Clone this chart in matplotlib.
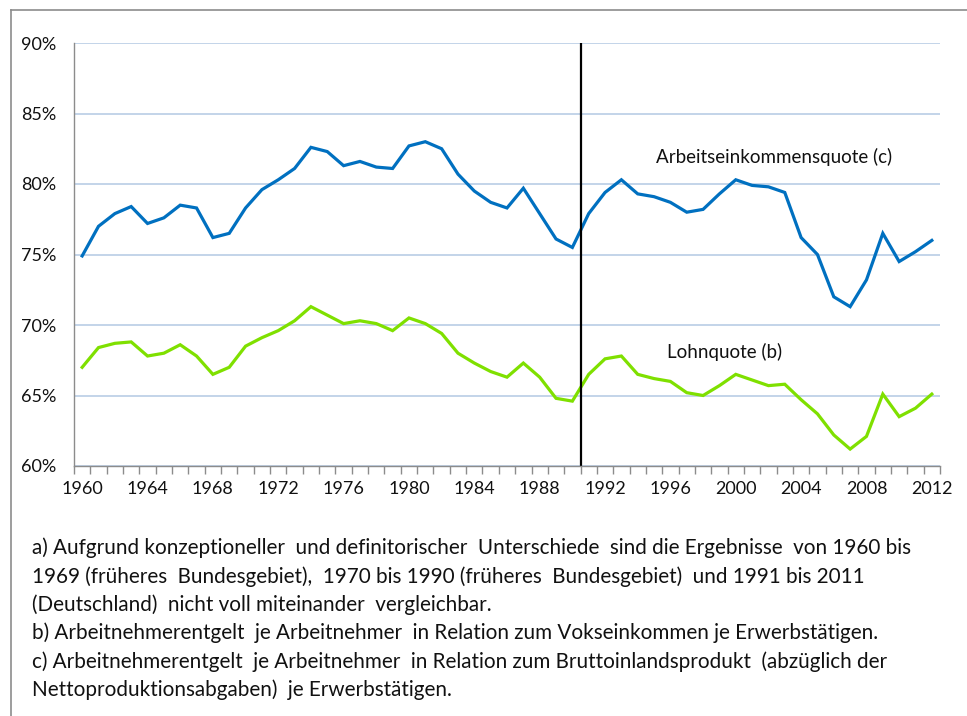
import numpy as np
import matplotlib.pyplot as plt
from matplotlib.lines import Line2D
from matplotlib.ticker import FixedLocator, FuncFormatter

plt.rcParams['font.family'] = ['Lato', 'DejaVu Sans']

# Data
years = list(range(1960, 2013))

arbeitseinkommensquote = [
    74.9, 77.0, 77.9, 78.4, 77.2, 77.6, 78.5, 78.3, 76.2, 76.5,
    78.3, 79.6, 80.3, 81.1, 82.6, 82.3, 81.3, 81.6, 81.2, 81.1,
    82.7, 83.0, 82.5, 80.7, 79.5, 78.7, 78.3, 79.7, 77.9, 76.1,
    75.5, 77.9, 79.4, 80.3, 79.3, 79.1, 78.7, 78.0, 78.2, 79.3,
    80.3, 79.9, 79.8, 79.4, 76.2, 75.0, 72.0, 71.3, 73.2, 76.5,
    74.5, 75.2, 76.0,
]

lohnquote = [
    67.0, 68.4, 68.7, 68.8, 67.8, 68.0, 68.6, 67.8, 66.5, 67.0,
    68.5, 69.1, 69.6, 70.3, 71.3, 70.7, 70.1, 70.3, 70.1, 69.6,
    70.5, 70.1, 69.4, 68.0, 67.3, 66.7, 66.3, 67.3, 66.3, 64.8,
    64.6, 66.5, 67.6, 67.8, 66.5, 66.2, 66.0, 65.2, 65.0, 65.7,
    66.5, 66.1, 65.7, 65.8, 64.7, 63.7, 62.2, 61.2, 62.1, 65.1,
    63.5, 64.1, 65.1,
]

label_years = list(range(1960, 2013, 4))
y_ticks = [60, 65, 70, 75, 80, 85, 90]
break_year = 1990.5

footnotes = [
    "a) Aufgrund konzeptioneller  und definitorischer  Unterschiede  sind die Ergebnisse  von 1960 bis",
    "1969 (früheres  Bundesgebiet),  1970 bis 1990 (früheres  Bundesgebiet)  und 1991 bis 2011",
    "(Deutschland)  nicht voll miteinander  vergleichbar.",
    "b) Arbeitnehmerentgelt  je Arbeitnehmer  in Relation zum Vokseinkommen je Erwerbstätigen.",
    "c) Arbeitnehmerentgelt  je Arbeitnehmer  in Relation zum Bruttoinlandsprodukt  (abzüglich der",
    "Nettoproduktionsabgaben)  je Erwerbstätigen.",
]

fig = plt.figure(figsize=(9.67, 7.16), dpi=100)
ax = fig.add_axes([74 / 967, 1 - 466 / 716, (940 - 74) / 967, (466 - 43) / 716])

ax.plot(years, arbeitseinkommensquote, color='#0070C0', lw=2.3, solid_joinstyle='miter')
ax.plot(years, lohnquote, color='#7FE000', lw=2.3, solid_joinstyle='miter')
ax.axvline(break_year, color='black', lw=1.6)

ax.set_xlim(1959.5, 2012.5)
ax.set_ylim(60, 90)

# y axis
ax.set_yticks(y_ticks)
ax.yaxis.set_major_formatter(FuncFormatter(lambda v, p: f"{v:.0f}%"))
ax.tick_params(axis='y', length=0, pad=13, labelsize=13, labelcolor='#111111')
ax.grid(axis='y', color='#B9CDE5', lw=1.2)
ax.set_axisbelow(True)

# x axis: category-like, ticks between years, labels every 4 years
ax.xaxis.set_major_locator(FixedLocator(label_years))
ax.xaxis.set_minor_locator(FixedLocator(np.arange(1959.5, 2013, 1.0)))
ax.tick_params(axis='x', which='major', length=0, pad=11, labelsize=13, labelcolor='#111111')
ax.tick_params(axis='x', which='minor', length=6, width=1, color='#8C8C8C', direction='out')

for side in ['top', 'right']:
    ax.spines[side].set_visible(False)
for side in ['left', 'bottom']:
    ax.spines[side].set_color('#8C8C8C')
    ax.spines[side].set_linewidth(1)

ax.text(1995.1, 81.9, "Arbeitseinkommensquote (c)", fontsize=13.5, va='center', ha='left', color='#111111')
ax.text(1995.8, 68.1, "Lohnquote (b)", fontsize=13.5, va='center', ha='left', color='#111111')

# footnotes
y0 = 548
for i, line in enumerate(footnotes):
    fig.text(32 / 967, 1 - (y0 + i * 28.4) / 716, line, fontsize=14.9,
             va='center', ha='left', color='#111111')

# outer frame
fig.add_artist(Line2D([11 / 967, 11 / 967], [1 - 10 / 716, 0], color='#8C8C8C', lw=1.2))
fig.add_artist(Line2D([11 / 967, 1], [1 - 10 / 716, 1 - 10 / 716], color='#8C8C8C', lw=1.2))

fig.savefig("out.png", dpi=100)
